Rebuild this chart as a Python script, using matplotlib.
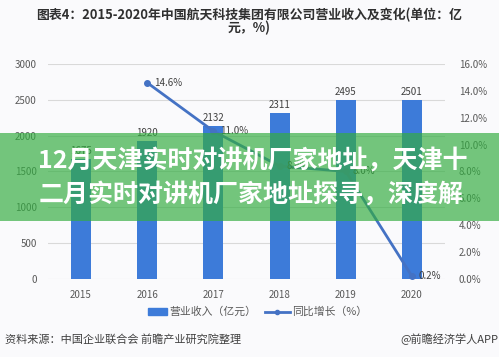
import matplotlib.pyplot as plt
from matplotlib.patches import Rectangle
from matplotlib.ticker import FuncFormatter

plt.rcParams['font.family'] = ['Noto Sans CJK SC', 'DejaVu Sans']

nam = ['2015', '2016', '2017', '2018', '2019', '2020']
doanhThu = [1675, 1920, 2132, 2311, 2495, 2501]
namTang = ['2016', '2017', '2018', '2019', '2020']
tangTruong = [14.6, 11.0, 8.4, 8.0, 0.2]
nhanTang = ['14.6%', '11.0%', '8.4%', '8.0%', '0.2%']

fig = plt.figure(figsize=(4.99, 3.57), dpi=100)
fig.patch.set_facecolor('#fafafc')
ax = fig.add_axes([0.096, 0.2185, 0.796, 0.6025])
ax.set_facecolor('#fafafc')

x = list(range(len(nam)))
ax.bar(x, doanhThu, width=0.3, color='#3d7bd9', zorder=2)
for i in range(len(nam)):
    ax.text(x[i], doanhThu[i] + 40, str(doanhThu[i]), ha='center', va='bottom',
            fontsize=7, color='#404040')
ax.set_ylim(0, 3000)
ax.set_yticks(range(0, 3001, 500))
ax.set_xlim(-0.5, 5.5)
ax.set_xticks(x)
ax.set_xticklabels(nam)
ax.grid(axis='y', color='#d9d9d9', linewidth=0.8, zorder=0)
for s in ax.spines.values():
    s.set_visible(False)
ax.tick_params(length=0, labelsize=7, colors='#595959', pad=8)

ax2 = ax.twinx()
xl = [nam.index(n) for n in namTang]
ax2.plot(xl, tangTruong, color='#4472c4', linewidth=2, marker='o', markersize=4, zorder=3)
for i in range(len(xl)):
    ax2.text(xl[i] + 0.1, tangTruong[i], nhanTang[i], ha='left', va='center',
             fontsize=7, color='#404040')
ax2.set_ylim(0, 16)
ax2.set_yticks(range(0, 17, 2))
ax2.yaxis.set_major_formatter(FuncFormatter(lambda v, p: '%.1f%%' % v))
for s in ax2.spines.values():
    s.set_visible(False)
ax2.tick_params(length=0, labelsize=7, colors='#595959', pad=10)

fig.text(0.5, 0.958, '图表4：2015-2020年中国航天科技集团有限公司营业收入及变化(单位：亿',
         ha='center', va='center', fontsize=9.3, fontweight='bold', color='#303030')
fig.text(0.5, 0.922, '元，%)', ha='center', va='center', fontsize=9.3,
         fontweight='bold', color='#303030')

# chu thich
fig.patches.append(Rectangle((0.297, 0.119), 0.038, 0.017, transform=fig.transFigure,
                             color='#3d7bd9'))
fig.text(0.340, 0.127, '营业收入（亿元）', ha='left', va='center', fontsize=7.8, color='#595959')
fig.lines.append(plt.Line2D([0.531, 0.556, 0.582], [0.127, 0.127, 0.127],
                            transform=fig.transFigure, color='#4472c4', linewidth=2,
                            marker='o', markersize=3, markevery=[1]))
fig.text(0.585, 0.127, '同比增长（%）', ha='left', va='center', fontsize=7.8, color='#595959')

fig.text(0.01, 0.05, '资料来源：中国企业联合会 前瞻产业研究院整理', ha='left', va='center',
         fontsize=8, color='#404040')
fig.text(0.998, 0.05, '@前瞻经济学人APP', ha='right', va='center', fontsize=8,
         color='#404040')

# bang xanh
fig.patches.append(Rectangle((0, 0.381), 1, 0.247, transform=fig.transFigure,
                             facecolor=(0.2, 0.68, 0.25), alpha=0.68, zorder=5))
fig.text(0.077, 0.552, '12月天津实时对讲机厂家地址，天津十', ha='left', va='center',
         fontsize=18, fontweight='bold', color='white', zorder=6)
fig.text(0.077, 0.454, '二月实时对讲机厂家地址探寻，深度解', ha='left', va='center',
         fontsize=18, fontweight='bold', color='white', zorder=6)

plt.savefig('out.png', dpi=100, facecolor=fig.get_facecolor())
